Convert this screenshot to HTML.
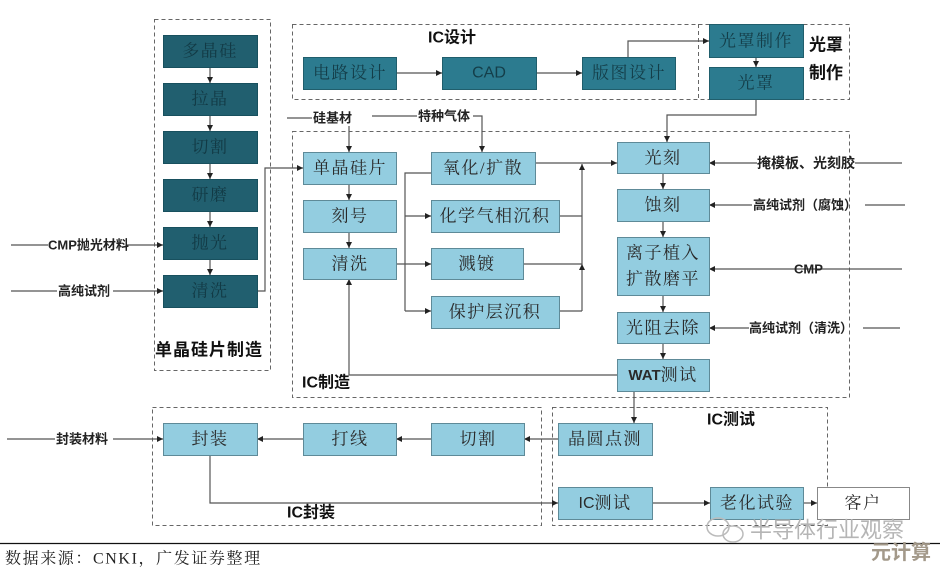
<!DOCTYPE html>
<html><head><meta charset="utf-8"><style>
html,body{margin:0;padding:0;background:#fff;}
svg{display:block;}
.bt{font-family:"Liberation Serif","Noto Serif CJK SC",serif;font-size:17px;letter-spacing:1.5px;text-anchor:middle;dominant-baseline:central;}
.lb{font-family:"Liberation Sans","Noto Sans CJK SC",sans-serif;font-size:13px;font-weight:bold;dominant-baseline:central;fill:#222;}
.sec{font-family:"Liberation Sans","Noto Sans CJK SC",sans-serif;font-size:16px;font-weight:bold;dominant-baseline:central;fill:#111;}
</style></head><body>
<svg width="940" height="572" viewBox="0 0 940 572" xmlns="http://www.w3.org/2000/svg">
<defs>
<marker id="a" viewBox="0 0 10 10" refX="10" refY="5" markerWidth="5" markerHeight="5" orient="auto"><path d="M0,0 L10,5 L0,10 z" fill="#222"/></marker>
</defs>
<rect width="940" height="572" fill="#fff"/>

<!-- dashed section boxes -->
<g fill="none" stroke="#666" stroke-width="1" stroke-dasharray="4 3">
<rect x="154.5" y="19.5" width="116" height="351"/>
<rect x="292.5" y="24.5" width="557" height="75"/>
<line x1="698.5" y1="24" x2="698.5" y2="100"/>
<rect x="292.5" y="131.5" width="557" height="266"/>
<rect x="152.5" y="407.5" width="389" height="118"/>
<rect x="552.5" y="407.5" width="275" height="118"/>
</g>

<!-- connectors -->
<g fill="none" stroke="#555" stroke-width="1.2">
<line x1="210" y1="67" x2="210" y2="83" marker-end="url(#a)"/>
<line x1="210" y1="115" x2="210" y2="131" marker-end="url(#a)"/>
<line x1="210" y1="163" x2="210" y2="179" marker-end="url(#a)"/>
<line x1="210" y1="211" x2="210" y2="227" marker-end="url(#a)"/>
<line x1="210" y1="259" x2="210" y2="275" marker-end="url(#a)"/>
<line x1="11" y1="245" x2="48" y2="245"/>
<line x1="126" y1="245" x2="163" y2="245" marker-end="url(#a)"/>
<line x1="11" y1="291" x2="57" y2="291"/>
<line x1="113" y1="291" x2="163" y2="291" marker-end="url(#a)"/>
<polyline points="257,291 265,291 265,168 303,168" marker-end="url(#a)"/>

<line x1="287" y1="118" x2="312" y2="118"/>
<line x1="349" y1="126" x2="349" y2="152" marker-end="url(#a)"/>
<line x1="372" y1="116" x2="417" y2="116"/>
<polyline points="473,116 482,116 482,152" marker-end="url(#a)"/>

<line x1="396" y1="73" x2="442" y2="73" marker-end="url(#a)"/>
<line x1="536" y1="73" x2="582" y2="73" marker-end="url(#a)"/>
<polyline points="628,57 628,41 709,41" marker-end="url(#a)"/>
<line x1="756" y1="57" x2="756" y2="67" marker-end="url(#a)"/>
<polyline points="756,99 756,115 667,115 667,142" marker-end="url(#a)"/>

<line x1="349" y1="184" x2="349" y2="200" marker-end="url(#a)"/>
<line x1="349" y1="232" x2="349" y2="248" marker-end="url(#a)"/>
<line x1="396" y1="264" x2="431" y2="264" marker-end="url(#a)"/>
<polyline points="431,173 405,173 405,311"/>
<line x1="405" y1="216" x2="431" y2="216" marker-end="url(#a)"/>
<line x1="405" y1="311" x2="431" y2="311" marker-end="url(#a)"/>

<line x1="535" y1="163" x2="617" y2="163" marker-end="url(#a)"/>
<line x1="559" y1="216" x2="582" y2="216"/>
<line x1="523" y1="264" x2="582" y2="264"/>
<line x1="559" y1="311" x2="582" y2="311"/>
<line x1="582" y1="311" x2="582" y2="264" marker-end="url(#a)"/>
<line x1="582" y1="264" x2="582" y2="164" marker-end="url(#a)"/>

<line x1="663" y1="173" x2="663" y2="189" marker-end="url(#a)"/>
<line x1="663" y1="221" x2="663" y2="237" marker-end="url(#a)"/>
<line x1="663" y1="295" x2="663" y2="312" marker-end="url(#a)"/>
<line x1="663" y1="343" x2="663" y2="359" marker-end="url(#a)"/>
<polyline points="617,375 349,375 349,279" marker-end="url(#a)"/>
<line x1="634" y1="391" x2="634" y2="423" marker-end="url(#a)"/>

<line x1="902" y1="163" x2="855" y2="163"/>
<line x1="757" y1="163" x2="709" y2="163" marker-end="url(#a)"/>
<line x1="905" y1="205" x2="865" y2="205"/>
<line x1="752" y1="205" x2="709" y2="205" marker-end="url(#a)"/>
<line x1="902" y1="269" x2="709" y2="269" marker-end="url(#a)"/>
<line x1="900" y1="328" x2="863" y2="328"/>
<line x1="749" y1="328" x2="709" y2="328" marker-end="url(#a)"/>

<line x1="558" y1="439" x2="524" y2="439" marker-end="url(#a)"/>
<line x1="431" y1="439" x2="396" y2="439" marker-end="url(#a)"/>
<line x1="303" y1="439" x2="257" y2="439" marker-end="url(#a)"/>
<line x1="7" y1="439" x2="55" y2="439"/>
<line x1="113" y1="439" x2="163" y2="439" marker-end="url(#a)"/>
<polyline points="210,455 210,503 558,503" marker-end="url(#a)"/>
<line x1="652" y1="503" x2="710" y2="503" marker-end="url(#a)"/>
<line x1="803" y1="503" x2="817" y2="503" marker-end="url(#a)"/>
</g>

<!-- dark boxes -->
<g fill="#215f6f" stroke="#18505e" stroke-width="1">
<rect x="163.5" y="35.5" width="94" height="32"/>
<rect x="163.5" y="83.5" width="94" height="32"/>
<rect x="163.5" y="131.5" width="94" height="32"/>
<rect x="163.5" y="179.5" width="94" height="32"/>
<rect x="163.5" y="227.5" width="94" height="32"/>
<rect x="163.5" y="275.5" width="94" height="32"/>
</g>
<g class="bt" fill="#123a45">
<text x="210" y="51" class="bt">多晶硅</text>
<text x="210" y="99" class="bt">拉晶</text>
<text x="210" y="147" class="bt">切割</text>
<text x="210" y="195" class="bt">研磨</text>
<text x="210" y="243" class="bt">抛光</text>
<text x="210" y="291" class="bt">清洗</text>
</g>

<!-- medium boxes -->
<g fill="#2c7b8f" stroke="#205e6c" stroke-width="1">
<rect x="303.5" y="57.5" width="93" height="32"/>
<rect x="442.5" y="57.5" width="94" height="32"/>
<rect x="582.5" y="57.5" width="93" height="32"/>
<rect x="709.5" y="24.5" width="94" height="33"/>
<rect x="709.5" y="67.5" width="94" height="32"/>
</g>
<g fill="#143e49">
<text x="350" y="73" class="bt">电路设计</text>
<text x="489" y="73" class="bt" style="font-family:'Liberation Sans',sans-serif;font-size:16px;letter-spacing:0">CAD</text>
<text x="629" y="73" class="bt">版图设计</text>
<text x="756" y="41" class="bt">光罩制作</text>
<text x="756" y="83" class="bt">光罩</text>
</g>

<!-- light boxes -->
<g fill="#93cde0" stroke="#5e8a98" stroke-width="1">
<rect x="303.5" y="152.5" width="93" height="32"/>
<rect x="303.5" y="200.5" width="93" height="32"/>
<rect x="303.5" y="248.5" width="93" height="31"/>
<rect x="431.5" y="152.5" width="104" height="32"/>
<rect x="431.5" y="200.5" width="128" height="32"/>
<rect x="431.5" y="248.5" width="92" height="31"/>
<rect x="431.5" y="296.5" width="128" height="32"/>
<rect x="617.5" y="142.5" width="92" height="31"/>
<rect x="617.5" y="189.5" width="92" height="32"/>
<rect x="617.5" y="237.5" width="92" height="58"/>
<rect x="617.5" y="312.5" width="92" height="31"/>
<rect x="617.5" y="359.5" width="92" height="32"/>
<rect x="163.5" y="423.5" width="94" height="32"/>
<rect x="303.5" y="423.5" width="93" height="32"/>
<rect x="431.5" y="423.5" width="93" height="32"/>
<rect x="558.5" y="423.5" width="94" height="32"/>
<rect x="558.5" y="487.5" width="94" height="32"/>
<rect x="710.5" y="487.5" width="93" height="32"/>
</g>
<rect x="817.5" y="487.5" width="92" height="32" fill="#fff" stroke="#888" stroke-width="1"/>
<g fill="#2a2a2a">
<text x="350" y="168" class="bt">单晶硅片</text>
<text x="350" y="216" class="bt">刻号</text>
<text x="350" y="264" class="bt">清洗</text>
<text x="483" y="168" class="bt">氧化/扩散</text>
<text x="495" y="216" class="bt">化学气相沉积</text>
<text x="477" y="264" class="bt">溅镀</text>
<text x="495" y="312" class="bt">保护层沉积</text>
<text x="663" y="158" class="bt">光刻</text>
<text x="663" y="205" class="bt">蚀刻</text>
<text x="663" y="253" class="bt">离子植入</text>
<text x="663" y="279" class="bt">扩散磨平</text>
<text x="663" y="328" class="bt">光阻去除</text>
<text x="663" y="375" class="bt"><tspan style="font-family:'Liberation Sans',sans-serif;font-weight:bold;font-size:15px;letter-spacing:0">WAT</tspan>测试</text>
<text x="210" y="439" class="bt">封装</text>
<text x="350" y="439" class="bt">打线</text>
<text x="478" y="439" class="bt">切割</text>
<text x="605" y="439" class="bt">晶圆点测</text>
<text x="605" y="503" class="bt"><tspan style="font-family:'Liberation Sans',sans-serif;font-size:16px;letter-spacing:0">IC</tspan>测试</text>
<text x="757" y="503" class="bt">老化试验</text>
<text x="863" y="503" class="bt">客户</text>
</g>

<!-- input labels -->
<text x="48" y="245" class="lb">CMP抛光材料</text>
<text x="58" y="291" class="lb">高纯试剂</text>
<text x="313" y="118" class="lb">硅基材</text>
<text x="418" y="116" class="lb">特种气体</text>
<text x="757" y="163" class="lb" style="font-size:14px">掩模板、光刻胶</text>
<text x="753" y="205" class="lb">高纯试剂（腐蚀）</text>
<text x="794" y="269" class="lb">CMP</text>
<text x="749" y="328" class="lb">高纯试剂（清洗）</text>
<text x="56" y="439" class="lb">封装材料</text>

<!-- section labels -->
<text x="428" y="38" class="sec">IC设计</text>
<text x="809" y="45" class="sec" style="font-size:17px">光罩</text>
<text x="809" y="73" class="sec" style="font-size:17px">制作</text>
<text x="155" y="350" class="sec" style="font-size:17px;letter-spacing:1px">单晶硅片制造</text>
<text x="302" y="383" class="sec">IC制造</text>
<text x="707" y="420" class="sec">IC测试</text>
<text x="287" y="513" class="sec">IC封装</text>

<!-- footer -->
<line x1="0" y1="543.5" x2="940" y2="543.5" stroke="#111" stroke-width="1.3"/>
<text x="5" y="559" style="font-family:'Liberation Serif','Noto Serif CJK SC',serif;font-size:16px;letter-spacing:1.6px;dominant-baseline:central;fill:#222">数据来源：CNKI，广发证券整理</text>

<!-- watermark -->
<g fill="none" stroke="#bbb" stroke-width="1.5">
<ellipse cx="718" cy="527" rx="11" ry="9"/>
<ellipse cx="733" cy="534" rx="10" ry="8"/>
</g>
<text x="750" y="530" style="font-family:'Liberation Sans','Noto Sans CJK SC',sans-serif;font-size:22px;dominant-baseline:central;fill:#b5b5b5">半导体行业观察</text>
<text x="871" y="553" style="font-family:'Liberation Sans','Noto Sans CJK SC',sans-serif;font-size:20px;font-weight:bold;dominant-baseline:central;fill:#a3998a">元计算</text>
</svg>
</body></html>
